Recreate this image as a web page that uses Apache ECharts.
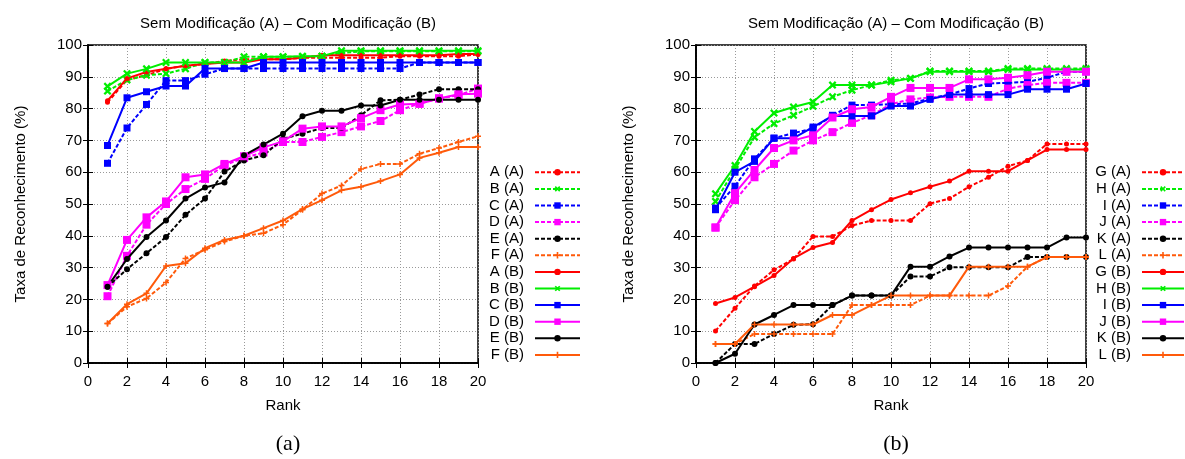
<!DOCTYPE html>
<html>
<head>
<meta charset="utf-8">
<script src="https://cdn.jsdelivr.net/npm/echarts@6/dist/echarts.min.js"></script>
<style>
html, body { margin: 0; padding: 0; background: #fff; }
#main { width: 1185px; height: 459px; }
</style>
</head>
<body>
<div id="main"></div>
<script>
var ranks = [1, 2, 3, 4, 5, 6, 7, 8, 9, 10, 11, 12, 13, 14, 15, 16, 17, 18, 19, 20];

// (a) sem modificacao (A) / com modificacao (B)
var A_A = [82, 89, 90.5, 92.5, 93.5, 94, 95, 95.5, 95.5, 95.5, 96, 96, 96, 96, 96, 96.5, 96.5, 96.5, 96.5, 97];
var B_A = [85.5, 89, 90.5, 91, 92.5, 94.5, 94.5, 96.3, 96.3, 96.3, 96.3, 96.5, 97.5, 98, 98, 98, 98, 98, 98, 98];
var C_A = [62.8, 73.9, 81.3, 88.8, 88.8, 90.8, 92.6, 92.6, 92.6, 92.6, 92.6, 92.6, 92.6, 92.6, 92.6, 92.6, 94.5, 94.5, 94.5, 94.5];
var D_A = [21, 33.7, 43.5, 50, 54.7, 57.9, 62.2, 64.5, 66.2, 69.5, 69.5, 71.1, 72.6, 74.4, 76.1, 79.5, 81.6, 83.2, 84.2, 86.3];
var E_A = [24, 29.5, 34.5, 39.6, 46.6, 51.7, 60.2, 63.7, 65.3, 70.5, 72.1, 73.9, 73.9, 77.9, 82.6, 82.8, 84.4, 86.1, 86.1, 86.1];
var F_A = [12.4, 17.7, 20.3, 25.3, 32.9, 35.6, 38.2, 40, 40.8, 43.5, 48.2, 53.3, 55.8, 61, 62.6, 62.6, 65.8, 67.6, 69.5, 71.3];
var A_B = [82.5, 89.5, 91.5, 92.5, 93.5, 94, 94.5, 94.5, 95.5, 95.5, 96, 96.8, 96.8, 96.8, 96.8, 96.8, 96.8, 96.8, 97.2, 97.2];
var B_B = [87, 91, 92.5, 94.5, 94.5, 94.5, 94.5, 94.5, 96.3, 96.3, 96.5, 96.5, 98.2, 98.2, 98.2, 98.2, 98.2, 98.2, 98.2, 98.2];
var C_B = [68.4, 83.4, 85.3, 87.1, 87.1, 92.6, 92.6, 92.6, 94.5, 94.5, 94.5, 94.5, 94.5, 94.5, 94.5, 94.5, 94.5, 94.5, 94.5, 94.5];
var D_B = [24.5, 38.7, 45.8, 50.8, 58.4, 59.3, 62.6, 65, 67.8, 69.7, 73.7, 74.4, 74.4, 77, 79.5, 81.3, 81.5, 83.2, 84.5, 84.7];
var E_B = [24, 32.7, 39.6, 44.8, 51.7, 55.2, 56.8, 65.3, 68.7, 72.1, 77.6, 79.3, 79.3, 81, 81, 82.8, 82.8, 82.8, 82.8, 82.8];
var F_B = [12.4, 18.5, 21.9, 30.5, 31.4, 36.1, 38.7, 40, 42.4, 44.8, 48.4, 51.2, 54.3, 55.4, 57.2, 59.3, 64.5, 66.1, 67.9, 67.9];

// (b)
var G_A = [10.1, 17.2, 24.2, 29.3, 32.7, 39.8, 39.8, 43.2, 44.8, 44.8, 44.8, 50.1, 51.7, 55.4, 58.4, 61.9, 63.7, 68.9, 68.9, 68.9];
var H_A = [50.8, 61, 71, 75.3, 77.9, 80.7, 83.7, 85.8, 87.4, 88.9, 89.5, 91.8, 91.8, 91.8, 91.8, 92.6, 92.6, 92.6, 92.6, 92.6];
var I_A = [48.7, 55.6, 64.2, 70.7, 72.3, 73.7, 77.9, 81.1, 81.1, 81.4, 81.6, 83.2, 84.4, 86.3, 87.9, 88.1, 88.4, 89.7, 91.6, 91.6];
var J_A = [42.6, 51.2, 58.4, 62.6, 66.8, 70, 72.6, 75.5, 77.9, 81.4, 82.9, 83.5, 83.7, 83.7, 83.7, 86.3, 87.4, 88.1, 88.1, 88.1];
var K_A = [0, 6, 6, 9.1, 12, 12.2, 18.2, 21.2, 21.2, 21.2, 27.2, 27.2, 30.1, 30.1, 30.1, 30.1, 33.3, 33.3, 33.3, 33.3];
var L_A = [6, 6, 9.1, 9.1, 9.1, 9.1, 9.1, 18.2, 18.2, 18.2, 18.2, 21.2, 21.2, 21.2, 21.2, 24.2, 30.3, 33.3, 33.3, 33.3];
var G_B = [18.7, 20.6, 24, 27.5, 32.9, 36.3, 37.9, 44.8, 48.2, 51.4, 53.5, 55.4, 57.2, 60.3, 60.3, 60.3, 63.7, 67.1, 67.1, 67.1];
var H_B = [53.2, 62.1, 72.8, 78.6, 80.5, 82.1, 87.4, 87.4, 87.4, 88.4, 89.5, 91.6, 91.6, 91.6, 91.6, 92.3, 92.3, 92.3, 92.3, 92.3];
var I_B = [48.2, 60, 63.4, 70.7, 70.7, 74.2, 77.7, 77.7, 77.7, 80.8, 80.8, 82.9, 84.4, 84.4, 84.4, 84.4, 86.1, 86.1, 86.1, 87.9];
var J_B = [42.6, 53.4, 60.7, 67.6, 70, 71.6, 77.2, 79.8, 80.5, 83.7, 86.5, 86.5, 86.5, 89.2, 89.2, 89.7, 90.5, 91.6, 91.6, 91.6];
var K_B = [0, 2.9, 12.1, 15.1, 18.2, 18.2, 18.2, 21.2, 21.2, 21.2, 30.3, 30.3, 33.5, 36.3, 36.3, 36.3, 36.3, 36.3, 39.5, 39.5];
var L_B = [6, 6, 12.1, 12.1, 12.1, 12.1, 15.1, 15.1, 18.2, 21.2, 21.2, 21.2, 21.2, 30.3, 30.3, 30.3, 30.3, 33.3, 33.3, 33.3];

var FONT = '"Liberation Sans", Arial, sans-serif';
var plus = 'path://M3,0L5,0L5,3L8,3L8,5L5,5L5,8L3,8L3,5L0,5L0,3L3,3Z';

// cores / marcadores por posicao da curva
var colors = ['#ff0000', '#00ee00', '#0000ff', '#ff00ff', '#000000', '#ff5a0a'];
var marks = [
  { symbol: 'circle', size: 5, rot: 0 },
  { symbol: plus, size: 9, rot: 45 },
  { symbol: 'rect', size: 7, rot: 0 },
  { symbol: 'rect', size: 8, rot: 0 },
  { symbol: 'circle', size: 6, rot: 0 },
  { symbol: plus, size: 6, rot: 0 }
];

function pairs(vals) {
  var out = [];
  for (var i = 0; i < ranks.length; i++) out.push([ranks[i], vals[i]]);
  return out;
}

function mkSeries(name, vals, idx, dashed, g) {
  return {
    name: name,
    type: 'line',
    xAxisIndex: g * 2,
    yAxisIndex: g * 2,
    data: pairs(vals),
    symbol: marks[idx].symbol,
    symbolSize: marks[idx].size,
    symbolRotate: marks[idx].rot,
    showAllSymbol: true,
    animation: false,
    z: dashed ? 2 : 3,
    itemStyle: { color: colors[idx] },
    lineStyle: { color: colors[idx], width: 2, type: dashed ? [4, 2] : 'solid' }
  };
}

var left = [['A', A_A, A_B], ['B', B_A, B_B], ['C', C_A, C_B], ['D', D_A, D_B], ['E', E_A, E_B], ['F', F_A, F_B]];
var right = [['G', G_A, G_B], ['H', H_A, H_B], ['I', I_A, I_B], ['J', J_A, J_B], ['K', K_A, K_B], ['L', L_A, L_B]];

var series = [];
var legendLeft = [], legendRight = [];
[left, right].forEach(function(set, g) {
  var names = g == 0 ? legendLeft : legendRight;
  set.forEach(function(s, i) {
    series.push(mkSeries(s[0] + ' (A)', s[1], i, true, g));
    names.push(s[0] + ' (A)');
  });
  set.forEach(function(s, i) {
    series.push(mkSeries(s[0] + ' (B)', s[2], i, false, g));
    names.push(s[0] + ' (B)');
  });
});

function xAxes(g) {
  var base = {
    type: 'value', gridIndex: g, min: 0, max: 20, interval: 2,
    axisLine: { show: true, lineStyle: { color: '#000', width: 1.5 } },
    axisTick: { show: true, inside: true, length: 5, lineStyle: { color: '#000' } }
  };
  return [
    Object.assign({}, base, {
      position: 'bottom',
      name: 'Rank', nameLocation: 'middle', nameGap: 35,
      nameTextStyle: { fontFamily: FONT, fontSize: 15, color: '#000' },
      axisLabel: { fontFamily: FONT, fontSize: 15, color: '#000', margin: 11 },
      splitLine: { show: true, lineStyle: { color: '#999', type: [1, 2], width: 1 } }
    }),
    Object.assign({}, base, { position: 'top', axisLabel: { show: false }, splitLine: { show: false } })
  ];
}

function yAxes(g) {
  var base = {
    type: 'value', gridIndex: g, min: 0, max: 100, interval: 10,
    axisLine: { show: true, lineStyle: { color: '#000', width: 1.5 } },
    axisTick: { show: true, inside: true, length: 5, lineStyle: { color: '#000' } }
  };
  return [
    Object.assign({}, base, {
      position: 'left',
      name: 'Taxa de Reconhecimento (%)', nameLocation: 'middle', nameGap: 60,
      nameTextStyle: { fontFamily: FONT, fontSize: 15, color: '#000' },
      axisLabel: { fontFamily: FONT, fontSize: 15, color: '#000', margin: 6 },
      splitLine: { show: true, lineStyle: { color: '#999', type: [1, 2], width: 1 } }
    }),
    Object.assign({}, base, { position: 'right', axisLabel: { show: false }, splitLine: { show: false } })
  ];
}

function legendOpt(names, rightPos, w) {
  return {
    data: names,
    orient: 'vertical',
    align: 'right',
    right: rightPos,
    top: 164,
    padding: 0,
    itemWidth: w,
    itemHeight: 8,
    itemGap: 0,
    selectedMode: false,
    textStyle: { fontFamily: FONT, fontSize: 15, color: '#000', padding: [0, 6, 0, 0], lineHeight: 16.6, height: 16.6 }
  };
}

var chart = echarts.init(document.getElementById('main'), null, { renderer: 'canvas' });
chart.setOption({
  backgroundColor: '#fff',
  animation: false,
  title: [
    { text: 'Sem Modificação (A) – Com Modificação (B)', left: 283, top: 11, textAlign: 'center',
      textStyle: { fontFamily: FONT, fontSize: 15, fontWeight: 'normal', color: '#000' } },
    { text: 'Sem Modificação (A) – Com Modificação (B)', left: 891, top: 11, textAlign: 'center',
      textStyle: { fontFamily: FONT, fontSize: 15, fontWeight: 'normal', color: '#000' } },
    { text: '(a)', left: 283, top: 428, textAlign: 'center',
      textStyle: { fontFamily: '"Liberation Serif", serif', fontSize: 22, fontWeight: 'normal', color: '#000' } },
    { text: '(b)', left: 891, top: 428, textAlign: 'center',
      textStyle: { fontFamily: '"Liberation Serif", serif', fontSize: 22, fontWeight: 'normal', color: '#000' } }
  ],
  legend: [legendOpt(legendLeft, 604, 45), legendOpt(legendRight, 0, 42)],
  grid: [
    { left: 88, right: 707, top: 45, bottom: 96, show: true, borderColor: '#000', borderWidth: 1.5 },
    { left: 696, right: 99, top: 45, bottom: 96, show: true, borderColor: '#000', borderWidth: 1.5 }
  ],
  xAxis: xAxes(0).concat(xAxes(1)),
  yAxis: yAxes(0).concat(yAxes(1)),
  series: series
});
</script>
</body>
</html>
